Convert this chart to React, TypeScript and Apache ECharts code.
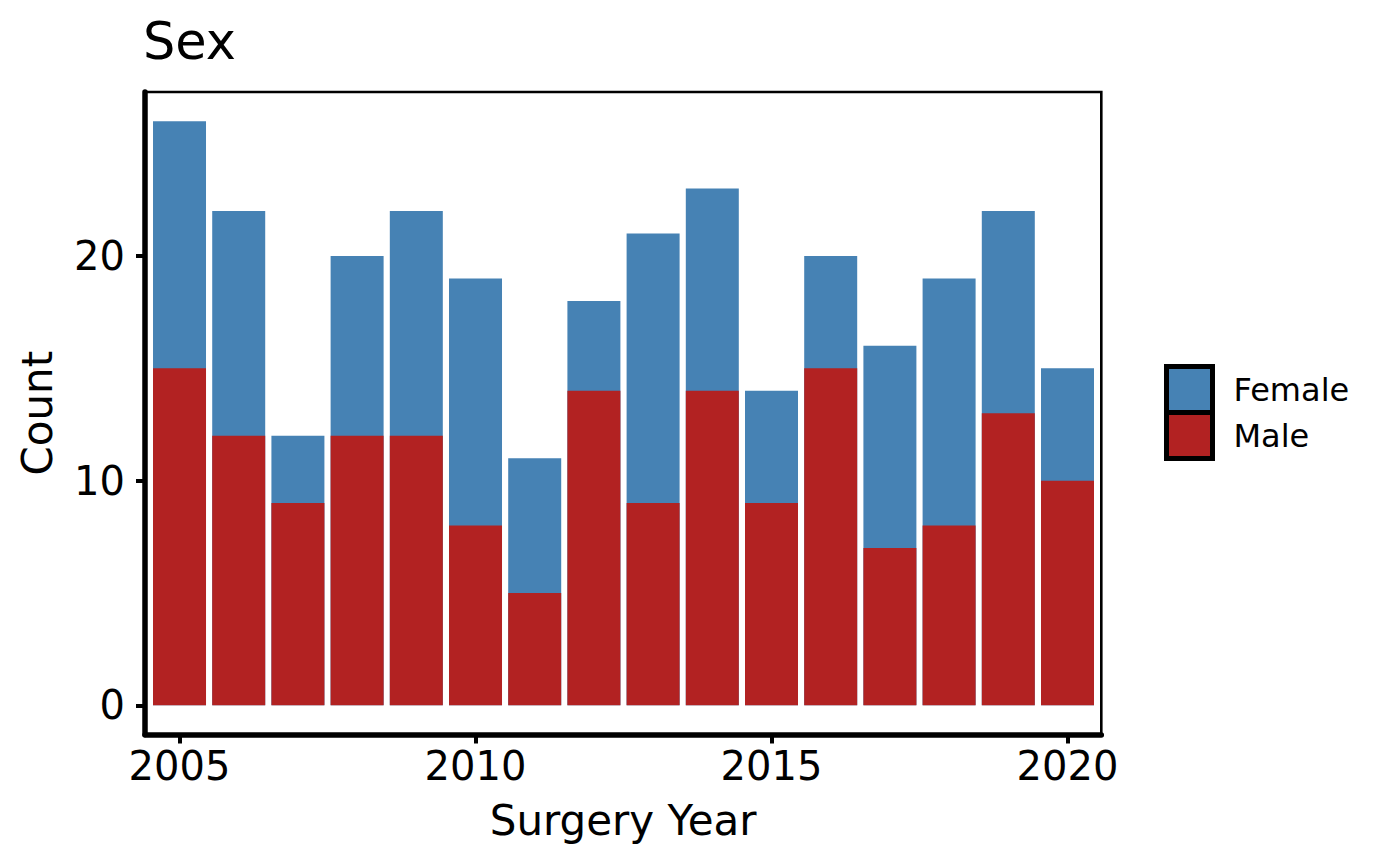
import React, { useEffect, useRef } from "react";
import * as echarts from "echarts";

const years = [2005, 2006, 2007, 2008, 2009, 2010, 2011, 2012, 2013, 2014, 2015, 2016, 2017, 2018, 2019, 2020];
const male = [15, 12, 9, 12, 12, 8, 5, 14, 9, 14, 9, 15, 7, 8, 13, 10];
const female = [11, 10, 3, 8, 10, 11, 6, 4, 12, 9, 5, 5, 9, 11, 9, 5];
const xTicks = [2005, 2010, 2015, 2020];
const yTicks = [0, 10, 20];
const legendNames = ["Female", "Male"];

const FONT = "DejaVu Sans";
const BLUE = "#4682B4";
const RED = "#B22222";

export default function App() {
  const ref = useRef<HTMLDivElement>(null);

  useEffect(() => {
    document.body.style.margin = "0";
    if (!ref.current) return;
    const chart = echarts.init(ref.current, undefined, { renderer: "svg" });

    const left = 145;
    const right = 1101.3;
    const top = 92;
    const bottom = 734.5;

    // Female is stacked on top of Male: its bar spans from the Male value up to the total.
    const femaleStacked = years.map((y, i) => [y, male[i] + female[i]]);

    const option: any = {
      animation: false,
      backgroundColor: "#fff",
      textStyle: { fontFamily: FONT },
      grid: {
        left: left,
        top: top,
        width: right - left,
        height: bottom - top,
        containLabel: false,
        outerBoundsMode: "none",
      },
      legend: {
        data: legendNames,
        orient: "vertical",
        left: 1164,
        top: 364,
        itemGap: -5,
        itemWidth: 46,
        itemHeight: 46,
        icon: "rect",
        padding: 0,
        itemStyle: { borderColor: "#000", borderWidth: 5 },
        textStyle: { fontSize: 32, color: "#000", fontFamily: FONT, padding: [0, 0, 0, 16] },
        selectedMode: false,
      },
      xAxis: {
        type: "value",
        min: 2004.417,
        max: 2020.571,
        axisLine: { show: true, onZero: false, lineStyle: { color: "#000", width: 5.5 } },
        axisTick: { show: true, customValues: xTicks, length: 9, lineStyle: { color: "#000", width: 4 } },
        axisLabel: {
          customValues: xTicks,
          fontSize: 40,
          color: "#000",
          margin: 11,
          fontFamily: FONT,
          formatter: (v: number) => String(v),
        },
        splitLine: { show: false },
      },
      yAxis: {
        type: "value",
        min: -1.3,
        max: 27.3,
        axisLine: { show: true, onZero: false, lineStyle: { color: "#000", width: 5.5 } },
        axisTick: { show: true, customValues: yTicks, length: 9, lineStyle: { color: "#000", width: 4 } },
        axisLabel: {
          customValues: yTicks,
          fontSize: 40,
          color: "#000",
          margin: 20,
          fontFamily: FONT,
          formatter: (v: number) => String(v),
        },
        splitLine: { show: false },
      },
      series: [
        {
          name: "Female",
          type: "bar",
          barWidth: 53,
          barGap: "-100%",
          itemStyle: { color: BLUE },
          data: femaleStacked,
        },
        {
          name: "Male",
          type: "bar",
          barWidth: 53,
          barGap: "-100%",
          itemStyle: { color: RED },
          data: years.map((y, i) => [y, male[i]]),
        },
      ],
      graphic: [
        {
          type: "rect",
          shape: { x: left, y: top, width: right - left, height: bottom - top },
          style: { fill: "none", stroke: "#000", lineWidth: 2.6 },
          silent: true,
          z: 10,
        },
        {
          type: "text",
          x: 143,
          y: 41.5,
          style: { text: "Sex", fontSize: 51, fontFamily: FONT, fill: "#000", align: "left", verticalAlign: "middle" },
        },
        {
          type: "text",
          x: (left + right) / 2,
          y: 820,
          style: { text: "Surgery Year", fontSize: 42, fontFamily: FONT, fill: "#000", align: "center", verticalAlign: "middle" },
        },
        {
          type: "text",
          x: 37,
          y: (top + bottom) / 2,
          rotation: Math.PI / 2,
          style: { text: "Count", fontSize: 42, fontFamily: FONT, fill: "#000", align: "center", verticalAlign: "middle" },
        },
      ],
    };

    chart.setOption(option);
    return () => chart.dispose();
  }, []);

  return <div ref={ref} style={{ width: 1400, height: 866 }} />;
}
